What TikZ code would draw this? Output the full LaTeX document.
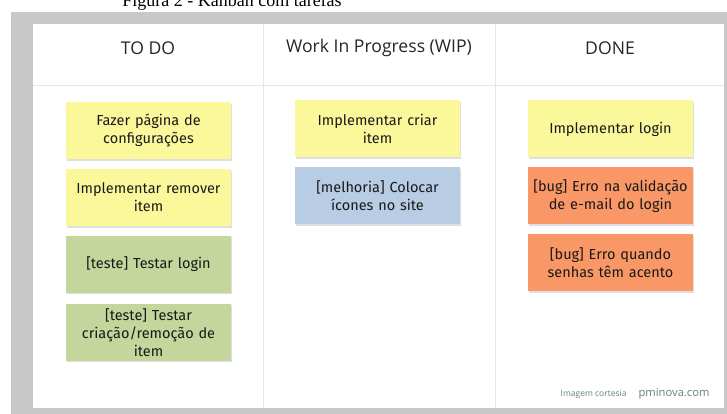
\documentclass[tikz,border=0pt]{standalone}
\usepackage{fontspec}
\setmainfont{Liberation Serif}
\newfontfamily\headfont{Open Sans}
\newfontfamily\cardfont{Fira Sans}
\usepackage{tikz}
\usetikzlibrary{positioning,shadows}

\definecolor{frame}{HTML}{C8C8C8}
\definecolor{rule}{HTML}{E6E6E6}
\definecolor{noteyellow}{HTML}{FBF89C}
\definecolor{notegreen}{HTML}{C4D69C}
\definecolor{noteblue}{HTML}{B8CCE4}
\definecolor{noteorange}{HTML}{F99866}
\definecolor{credit}{HTML}{5F8282}

\tikzset{
  card/.style={rectangle, minimum width=165pt, minimum height=57pt,
    text width=160pt, align=center, inner sep=0pt,
    font=\cardfont\fontsize{14.5}{18}\selectfont, text=black!90,
    drop shadow={opacity=0.25, shadow xshift=0.6pt, shadow yshift=-1.6pt}},
  todo/.style={card, fill=noteyellow},
  teste/.style={card, fill=notegreen},
  melhoria/.style={card, fill=noteblue},
  bug/.style={card, fill=noteorange},
  header/.style={font=\headfont\fontsize{17.6}{20}\selectfont, text=black!85}
}

\begin{document}
\begin{tikzpicture}[x=1pt,y=-1pt,node distance=9.5pt]
\useasboundingbox (0,0) rectangle (727,414);
\clip (0,0) rectangle (727,414);

% frame and board
\fill[frame] (11,12) rectangle (727,414);
\fill[white] (33,24) rectangle (724,408);
\draw[rule,thick] (33,85) -- (724,85);
\draw[rule,thick] (263,24) -- (263,408);
\draw[rule,thick] (495,24) -- (495,408);

% caption (cut off at the top)
\node[anchor=base,font=\fontsize{18}{20}\selectfont] (caption) at (232,7) {Figura 2 - Kanban com tarefas};

% column titles
\node[header] (todo) at (148,48) {TO DO};
\node[header] (wip) at (379,48) {Work In Progress (WIP)};
\node[header] (done) at (610,48) {DONE};

% TO DO
\node[todo] (t1) at (148.5,130.5) {Fazer página de\\configurações};
\node[todo, below=of t1] (t2) {Implementar remover\\item};
\node[teste, below=of t2] (t3) {[teste] Testar login};
\node[teste, below=10.5pt of t3] (t4) {[teste] Testar\\criação/remoção de\\item};

% WIP
\node[todo] (w1) at (377.5,129) {Implementar criar\\item};
\node[melhoria, below=of w1] (w2) {[melhoria] Colocar\\ícones no site};

% DONE
\node[todo] (d1) at (610.5,129) {Implementar login};
\node[bug, below=of d1] (d2) {[bug] Erro na validação\\de e-mail do login};
\node[bug, below=of d2] (d3) {[bug] Erro quando\\senhas têm acento};

% credit
\node[anchor=base east,text=credit,font=\headfont\fontsize{11.2}{13}\selectfont] (site) at (713,396) {pminova.com};
\node[anchor=base east,text=credit,font=\headfont\fontsize{8.5}{10}\selectfont] (cortesia) at ([xshift=-5pt]site.base west) {Imagem cortesia};
\end{tikzpicture}
\end{document}
